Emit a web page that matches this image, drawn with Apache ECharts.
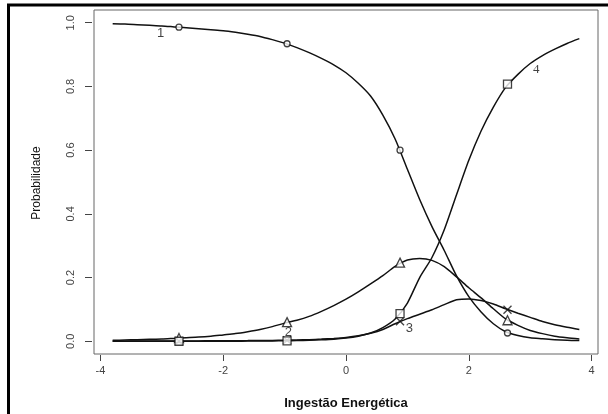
<!DOCTYPE html>
<html>
<head>
<meta charset="utf-8">
<script src="https://cdn.jsdelivr.net/npm/echarts@6/dist/echarts.min.js"></script>
<style>html,body{margin:0;padding:0;background:#fff}#c{width:608px;height:414px}</style>
</head>
<body>
<div id="c"></div>
<script>
// x grid (uniform, step 0.2) where the fitted curves were read
var xs = [-3.8,-3.6,-3.4,-3.2,-3.0,-2.8,-2.6,-2.4,-2.2,-2.0,-1.8,-1.6,-1.4,-1.2,-1.0,-0.8,-0.6,-0.4,-0.2,0.0,
          0.2,0.4,0.6,0.8,1.0,1.2,1.4,1.6,1.8,2.0,2.2,2.4,2.6,2.8,3.0,3.2,3.4,3.6,3.8];
var curve1 = [0.997,0.996,0.994,0.992,0.990,0.987,0.984,0.981,0.978,0.975,0.970,0.964,0.957,0.947,0.936,0.922,0.906,0.888,0.868,0.843,
              0.81,0.77,0.71,0.635,0.54,0.445,0.36,0.285,0.205,0.14,0.092,0.055,0.03,0.018,0.011,0.008,0.005,0.003,0.002];
var curve2 = [0.003,0.004,0.005,0.006,0.007,0.009,0.011,0.013,0.016,0.02,0.024,0.03,0.037,0.046,0.057,0.066,0.078,0.094,0.112,0.132,
              0.155,0.18,0.206,0.235,0.255,0.26,0.254,0.234,0.202,0.168,0.136,0.102,0.07,0.05,0.034,0.024,0.016,0.011,0.007];
var curve3 = [0.0003,0.0004,0.0005,0.0006,0.0007,0.0009,0.001,0.0012,0.0014,0.0016,0.0018,0.002,0.0023,0.0027,0.0032,0.004,0.005,0.0068,0.009,0.012,
              0.017,0.025,0.037,0.055,0.071,0.085,0.099,0.115,0.13,0.133,0.128,0.117,0.102,0.088,0.075,0.062,0.052,0.044,0.037];
var curve4 = [0,0,0,0,0,0,0,0,0,0,0.0003,0.0005,0.0008,0.001,0.0015,0.002,0.003,0.0045,0.0065,0.01,
              0.016,0.026,0.043,0.07,0.12,0.2,0.263,0.35,0.46,0.568,0.66,0.735,0.797,0.838,0.872,0.897,0.917,0.935,0.95];
// observed points
var xObs = [-2.72,-0.96,0.88,2.63];
var obs1 = [0.986,0.934,0.60,0.026];
var obs2 = [0.010,0.060,0.247,0.066];
var obs3 = [0.001,0.003,0.063,0.099];
var obs4 = [0.000,0.001,0.087,0.807];
// curve labels
var curveLabels = ['1','2','3','4'];
var labelX = [-3.02,-0.94,1.03,3.1];
var labelY = [0.968,0.028,0.041,0.852];
var xTicks = [-4,-2,0,2,4];
var yTicks = [0,0.2,0.4,0.6,0.8,1.0];

function pairs(xa, ya){ return xa.map(function(x,i){ return [x, ya[i]]; }); }
var ink = '#111';
function lineSeries(vals){
  return {type:'line', data:pairs(xs, vals), smooth:0.25, showSymbol:false, symbol:'none',
    lineStyle:{color:ink, width:1.5}, z:2, silent:true};
}
function markSeries(vals, sym, size){
  return {type:'scatter', data:pairs(xObs, vals), symbol:sym, symbolSize:size,
    itemStyle:{color: sym.indexOf('path')===0 ? 'none' : '#fff', borderColor:ink, borderWidth:1.3}, z:3, silent:true};
}
var chart = echarts.init(document.getElementById('c'), null, {renderer:'canvas'});
var tickFont = {fontFamily:'Liberation Sans', fontSize:11, color:'#444'};
chart.setOption({
  animation:false,
  backgroundColor:'#fff',
  grid:{left:94, right:10, top:10, bottom:60, show:true, borderColor:'#666', borderWidth:1, backgroundColor:'transparent'},
  xAxis:{type:'value', min:-4.104, max:4.104, offset:1,
    splitLine:{show:false}, axisLine:{show:false, onZero:false},
    axisTick:{show:true, customValues:xTicks, length:6, lineStyle:{color:'#444'}},
    axisLabel:Object.assign({customValues:xTicks, margin:10}, tickFont)},
  yAxis:{type:'value', min:-0.04, max:1.04, offset:2,
    splitLine:{show:false}, axisLine:{show:false, onZero:false},
    axisTick:{show:true, customValues:yTicks, length:7, lineStyle:{color:'#444'}},
    axisLabel:Object.assign({customValues:yTicks, margin:16, rotate:90, formatter:function(v){return v.toFixed(1);}}, tickFont)},
  graphic:[
    {type:'line', shape:{x1:7, y1:5, x2:608, y2:5}, style:{stroke:'#000', lineWidth:3}},
    {type:'line', shape:{x1:8.5, y1:4, x2:8.5, y2:414}, style:{stroke:'#000', lineWidth:3}},
    {type:'text', x:37, y:183, rotation:Math.PI/2, style:{text:'Probabilidade', font:'12px "Liberation Sans"', fill:'#111', textAlign:'center', textVerticalAlign:'middle'}},
    {type:'text', x:346, y:403, style:{text:'Ingestão Energética', font:'bold 13px "Liberation Sans"', fill:'#111', textAlign:'center', textVerticalAlign:'middle'}}
  ],
  series:[
    lineSeries(curve1), lineSeries(curve2), lineSeries(curve3), lineSeries(curve4),
    markSeries(obs1, 'circle', 6),
    markSeries(obs2, 'triangle', 9),
    markSeries(obs3, 'path://M0,0L10,10M10,0L0,10', 8),
    markSeries(obs4, 'rect', 8),
    {type:'scatter', symbolSize:0, z:4, silent:true,
     data:curveLabels.map(function(t,i){ return {name:t, value:[labelX[i], labelY[i]],
       label:{fontFamily: t==='4' ? 'Liberation Serif' : 'Liberation Sans'}}; }),
     label:{show:true, position:'inside', formatter:'{b}', fontSize:13, color:'#111', fontFamily:'Liberation Sans'}}
  ]
});
</script>
</body>
</html>
